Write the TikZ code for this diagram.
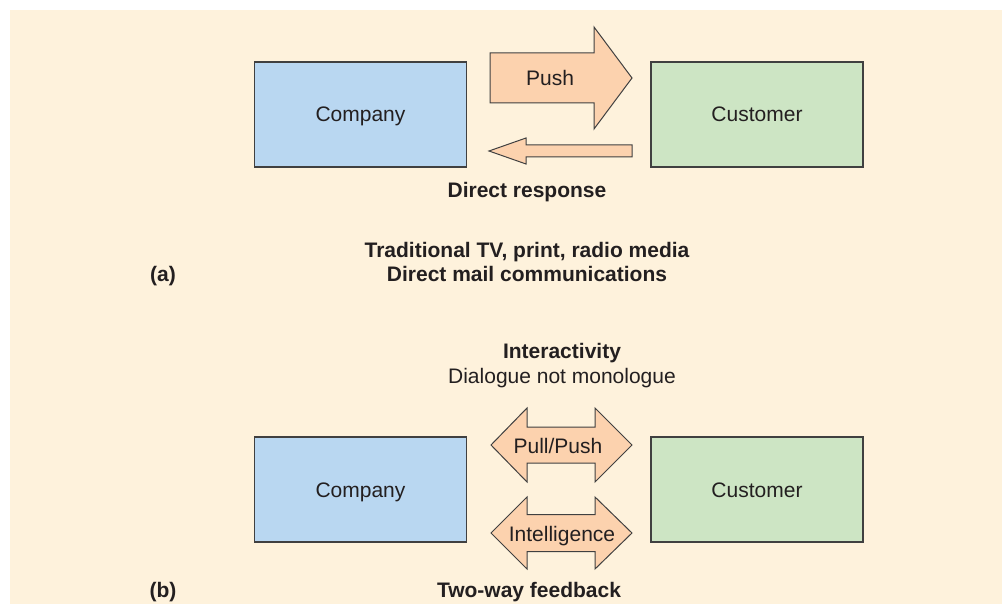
\documentclass[tikz,border=0pt]{standalone}
\usepackage{fontspec}
\setmainfont{Liberation Sans}
\usetikzlibrary{positioning,calc}
\definecolor{panelbg}{HTML}{FEF2DC}
\definecolor{compblue}{HTML}{B9D7F1}
\definecolor{custgreen}{HTML}{CDE5C4}
\definecolor{arrowfill}{HTML}{FCD2AE}
\definecolor{linegray}{HTML}{404040}
\definecolor{inkdark}{HTML}{231F20}
% double-headed block arrow centred at height #1 (head half #2, shaft half #3)
\newcommand{\twowayarrow}[3]{%
  \draw[blockarrow] (491,#1) -- (527,#1-#2) -- (527,#1-#3) -- (595,#1-#3)
    -- (595,#1-#2) -- (632,#1) -- (595,#1+#2) -- (595,#1+#3)
    -- (527,#1+#3) -- (527,#1+#2) -- cycle;}
\begin{document}
\begin{tikzpicture}[x=1pt, y=-1pt,
  font=\fontsize{21}{24}\selectfont, text=inkdark,
  party/.style={draw=linegray, line width=1.2pt, minimum width=212pt,
                minimum height=105pt, text height=15pt, text depth=0pt, inner sep=0pt},
  company/.style={party, fill=compblue},
  customer/.style={party, fill=custgreen},
  blockarrow/.style={draw=linegray, line width=1pt, fill=arrowfill, line join=miter},
  caption/.style={anchor=base, font=\fontsize{21}{24}\selectfont\bfseries},
  plaintext/.style={anchor=base}
]
\useasboundingbox (0,0) rectangle (1002,604);
\fill[panelbg] (10,10) rectangle (1002,604);

% (a) one-way
\node[company] (compA) at (360.5,114.5) {Company};
\node[customer] (custA) at (757,114.5) {Customer};
\draw[blockarrow] (490,53) -- (594,53) -- (594,27) -- (632,78) -- (594,129)
  -- (594,103) -- (490,103) -- cycle;
\node[plaintext] (push) at (550,86) {Push};
\draw[blockarrow] (632,145) -- (526,145) -- (526,138) -- (489,151) -- (526,164)
  -- (526,157) -- (632,157) -- cycle;
\node[caption] (resp) at (527,198) {Direct response};
\node[caption] (media) at (527,258) {Traditional TV, print, radio media};
\node[caption] (mail) at (527,282) {Direct mail communications};
\node[caption] (labA) at (163,282) {(a)};

% (b) two-way
\node[caption] (inter) at (562,358) {Interactivity};
\node[plaintext] (dialog) at (562,383) {Dialogue not monologue};
\node[company] (compB) at (360.5,489.5) {Company};
\node[customer] (custB) at (757,489.5) {Customer};
\twowayarrow{445}{37}{18}
\node[plaintext] (pullpush) at (558,453) {Pull/Push};
\twowayarrow{533}{36}{18.5}
\node[plaintext] (intel) at (562,541) {Intelligence};
\node[caption] (feed) at (529,597) {Two-way feedback};
\node[caption] (labB) at (163,597) {(b)};
\end{tikzpicture}
\end{document}
